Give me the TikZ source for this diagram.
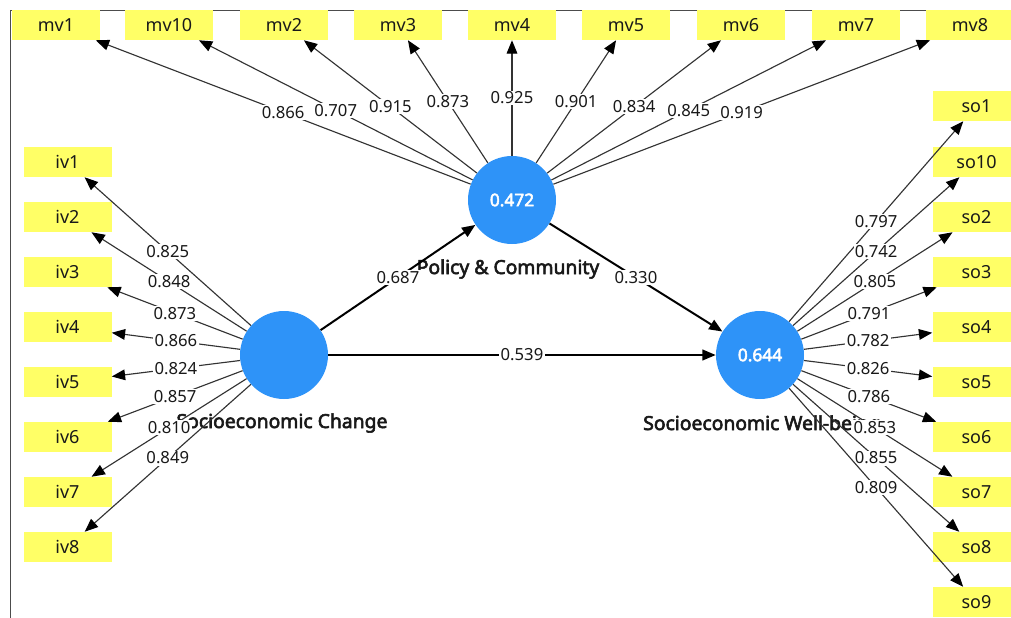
\documentclass[tikz,border=0pt]{standalone}
\usepackage{fontspec}
\setmainfont{Noto Sans}[AutoFakeBold=3]
\usetikzlibrary{arrows.meta}
\definecolor{indyellow}{RGB}{255,255,102}
\definecolor{lvblue}{RGB}{46,147,248}
\tikzset{
  ->/.style={draw=black!80,line width=0.85pt,-{Triangle[length=10pt,width=8pt,color=black]}},
  inner/.style={draw=black,line width=1.5pt,-{Triangle[length=10pt,width=8pt]}},
  ind/.style={fill=indyellow,minimum width=66pt,minimum height=22.5pt,inner sep=0pt,font=\fontsize{13.5}{15}\selectfont},
  lv/.style={circle,fill=lvblue,minimum size=66pt,inner sep=0pt,text=white,font=\fontsize{13}{15}\selectfont\bfseries},
  lvname/.style={font=\fontsize{14.5}{16}\selectfont\bfseries},
  lbl/.style={fill=white,inner sep=1pt}
}
\tikzstyle{every node}=[color=black!90,font=\fontsize{12.5}{14}\selectfont]

\begin{document}
\begin{tikzpicture}[x=0.75pt,y=-0.75pt]
    \useasboundingbox (0,0) rectangle (1011,618);
    \clip (0,0) rectangle (1011,618);
    \draw [black!70,line width=0.75pt] (10,618) -- (10,10) -- (1011,10);

    \node [ind] (mv1) at (56,25) {mv1};
    \node [ind] (mv10) at (169,25) {mv10};
    \node [ind] (mv2) at (284,25) {mv2};
    \node [ind] (mv3) at (398,25) {mv3};
    \node [ind] (mv4) at (512,25) {mv4};
    \node [ind] (mv5) at (626,25) {mv5};
    \node [ind] (mv6) at (741,25) {mv6};
    \node [ind] (mv7) at (856,25) {mv7};
    \node [ind] (mv8) at (970,25) {mv8};

    \node [ind] (iv1) at (67.5,162) {iv1};
    \node [ind] (iv2) at (67.5,217) {iv2};
    \node [ind] (iv3) at (67.5,272) {iv3};
    \node [ind] (iv4) at (67.5,327) {iv4};
    \node [ind] (iv5) at (67.5,382) {iv5};
    \node [ind] (iv6) at (67.5,437) {iv6};
    \node [ind] (iv7) at (67.5,492) {iv7};
    \node [ind] (iv8) at (67.5,547) {iv8};

    \node [ind] (so1) at (976.5,106) {so1};
    \node [ind] (so10) at (976.5,162) {so10};
    \node [ind] (so2) at (976.5,217) {so2};
    \node [ind] (so3) at (976.5,272) {so3};
    \node [ind] (so4) at (976.5,327) {so4};
    \node [ind] (so5) at (976.5,382) {so5};
    \node [ind] (so6) at (976.5,437) {so6};
    \node [ind] (so7) at (976.5,492) {so7};
    \node [ind] (so8) at (976.5,547) {so8};
    \node [ind] (so9) at (976.5,602) {so9};

    \node [lv] (SC) at (284,355) {};
    \node [lv] (PC) at (512,200) {0.472};
    \node [lv] (SW) at (760,355) {0.644};
    \node [lvname] (SCname) at (282,423) {Socioeconomic Change};
    \node [lvname] (PCname) at (508,269) {Policy \& Community};
    \node [lvname] (SWname) at (762,425) {Socioeconomic Well-being};

    \draw [inner] (SC) -- node[lbl] {0.687} (PC);
    \draw [inner] (PC) -- node[lbl] {0.330} (SW);
    \draw [inner] (SC) -- node[lbl] {0.539} (SW);

    \draw [->] (PC) -- node[lbl] {0.866} (mv1);
    \draw [->] (PC) -- node[lbl] {0.707} (mv10);
    \draw [->] (PC) -- node[lbl] {0.915} (mv2);
    \draw [->] (PC) -- node[lbl] {0.873} (mv3);
    \draw [->] (PC) -- node[lbl] {0.925} (mv4);
    \draw [->] (PC) -- node[lbl] {0.901} (mv5);
    \draw [->] (PC) -- node[lbl] {0.834} (mv6);
    \draw [->] (PC) -- node[lbl] {0.845} (mv7);
    \draw [->] (PC) -- node[lbl] {0.919} (mv8);

    \draw [->] (SC) -- node[lbl] {0.825} (iv1);
    \draw [->] (SC) -- node[lbl] {0.848} (iv2);
    \draw [->] (SC) -- node[lbl] {0.873} (iv3);
    \draw [->] (SC) -- node[lbl] {0.866} (iv4);
    \draw [->] (SC) -- node[lbl] {0.824} (iv5);
    \draw [->] (SC) -- node[lbl] {0.857} (iv6);
    \draw [->] (SC) -- node[lbl] {0.810} (iv7);
    \draw [->] (SC) -- node[lbl] {0.849} (iv8);

    \draw [->] (SW) -- node[lbl] {0.797} (so1);
    \draw [->] (SW) -- node[lbl] {0.742} (so10);
    \draw [->] (SW) -- node[lbl] {0.805} (so2);
    \draw [->] (SW) -- node[lbl] {0.791} (so3);
    \draw [->] (SW) -- node[lbl] {0.782} (so4);
    \draw [->] (SW) -- node[lbl] {0.826} (so5);
    \draw [->] (SW) -- node[lbl] {0.786} (so6);
    \draw [->] (SW) -- node[lbl] {0.853} (so7);
    \draw [->] (SW) -- node[lbl] {0.855} (so8);
    \draw [->] (SW) -- node[lbl] {0.809} (so9);
\end{tikzpicture}
\end{document}
